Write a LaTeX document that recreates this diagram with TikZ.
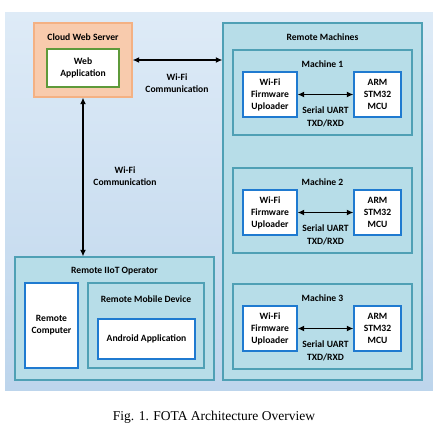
\documentclass[tikz,border=0pt]{standalone}
\usepackage{fontspec}
\setmainfont{Carlito}
\newfontfamily\capfont{Liberation Serif}
\usetikzlibrary{arrows.meta}
\definecolor{bgtop}{HTML}{DEEBF7}
\definecolor{bgbot}{HTML}{BDD5EC}
\definecolor{teal}{HTML}{B7DDE8}
\definecolor{tealb}{HTML}{4FA0B5}
\definecolor{peach}{HTML}{F8CBAD}
\definecolor{peachb}{HTML}{F4B183}
\definecolor{greenb}{HTML}{5E9A3A}
\definecolor{blueb}{HTML}{1F7AD0}
\tikzset{
  box/.style={draw, line width=1.3pt, inner sep=0pt, minimum width=#1},
  cont/.style={box=#1, fill=teal, draw=tealb},
  wbox/.style={box=#1, fill=white, draw=blueb, align=center, font=\bfseries\fontsize{9.6}{12}\selectfont},
  lbl/.style={font=\bfseries\fontsize{9.6}{12}\selectfont, align=center, inner sep=0pt},
  dbl/.style={line width=1.4pt, {Latex[length=6.5pt,width=6pt]}-{Latex[length=6.5pt,width=6pt]}},
}
\begin{document}
\begin{tikzpicture}[x=1pt,y=-1pt]
\useasboundingbox (0,0) rectangle (433,426);
\shade[top color=bgtop, bottom color=bgbot] (5,12) rectangle (433,390);
% cloud
\node[box=98pt, minimum height=74pt, fill=peach, draw=peachb] (cloud) at (83,60) {};
\node[lbl] (cloudl) at (83,37) {Cloud Web Server};
\node[box=72pt, minimum height=38pt, fill=white, draw=greenb, align=center, font=\bfseries\fontsize{9.6}{12}\selectfont] (web) at (83,68) {Web\\Application};
% remote machines
\node[cont=199pt, minimum height=357pt] (rm) at (322.5,201.5) {};
\node[lbl] (rml) at (322.5,37) {Remote Machines};
\foreach \i/\t in {1/50,2/168,3/284}{
  \node[cont=179pt, minimum height=85pt] (m\i) at (322.5,\t+42.5) {};
  \node[lbl] (m\i l) at (322.5,\t+14) {Machine \i};
  \node[wbox=54pt, minimum height=45pt] (up\i) at (270,\t+44.5) {Wi-Fi\\Firmware\\Uploader};
  \node[wbox=47pt, minimum height=45pt] (arm\i) at (377.5,\t+44.5) {ARM\\STM32\\MCU};
  \draw[dbl] (up\i) -- (arm\i);
  \node[lbl] (s\i) at (325.5,\t+66.5) {Serial UART\\[1pt]TXD/RXD};
}
% operator
\node[cont=199pt, minimum height=123pt] (op) at (114.5,318.5) {};
\node[lbl] (opl) at (114.5,271) {Remote IIoT Operator};
\node[wbox=53pt, minimum height=85pt] (pc) at (51.5,325.5) {Remote\\Computer};
\node[cont=116pt, minimum height=85pt] (mob) at (146,325.5) {};
\node[lbl] (mobl) at (146,299) {Remote Mobile Device};
\node[wbox=97pt, minimum height=40pt] (and) at (146.5,339) {Android Application};
% arrows
\draw[dbl] (cloud.east |- 0,60) -- (rm.west |- 0,60);
\node[lbl] (w1) at (177,83) {Wi-Fi\\Communication};
\draw[dbl] (cloud.south) -- (cloud.south |- op.north);
\node[lbl] (w2) at (125,176.5) {Wi-Fi\\Communication};
% caption
\node[font=\capfont\fontsize{13.5}{16}\selectfont, inner sep=0pt] (cap) at (214,417) {Fig. 1. FOTA Architecture Overview};
\end{tikzpicture}
\end{document}
